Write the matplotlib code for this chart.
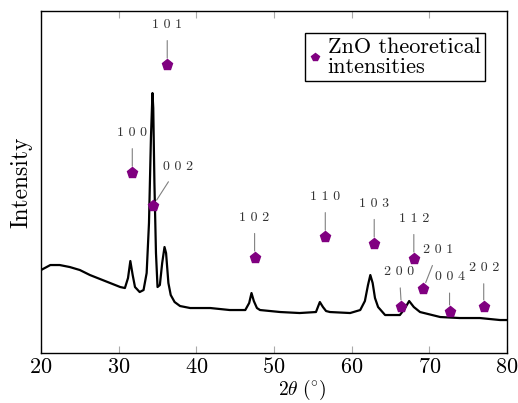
import matplotlib
matplotlib.use('Agg')
from matplotlib import pyplot as plt

plt.rcParams['font.family'] = ['cmr10', 'DejaVu Serif']
plt.rcParams['mathtext.fontset'] = 'cm'
plt.rcParams['axes.formatter.use_mathtext'] = True

# measured XRD pattern (2theta, intensity in arbitrary units)
two_theta = [20.0, 21.2, 22.4, 23.7, 25.0, 26.3, 27.6, 28.9, 30.2, 30.8, 31.2, 31.5, 31.8,
             32.1, 32.7, 33.2, 33.6, 33.9, 34.15, 34.35, 34.45, 34.6, 34.8, 35.0, 35.3, 35.6,
             35.9, 36.1, 36.4, 36.7, 37.2, 37.9, 39.2, 41.8, 44.3, 46.3, 46.8, 47.1, 47.4,
             47.8, 48.2, 50.8, 53.3, 55.4, 55.9, 56.3, 56.7, 57.2, 59.8, 61.1, 61.7, 62.1,
             62.4, 62.7, 63.0, 63.4, 64.3, 66.2, 66.8, 67.4, 68.0, 68.8, 71.4, 73.9, 76.5,
             79.1, 80.0]
intensity = [83, 88, 88, 86, 83, 78, 74, 70, 66, 65, 75, 92, 78,
             66, 61, 63, 80, 130, 215, 260, 245, 170, 100, 66, 68, 90,
             106, 100, 70, 58, 51, 47, 45, 45, 43, 43, 50, 60, 52,
             45, 43, 41, 40, 41, 51, 46, 42, 41, 40, 43, 52, 68,
             78, 70, 55, 46, 38, 38, 44, 52, 46, 41, 36, 35, 35,
             33, 33]

# ZnO theoretical peaks
peak_pos = [31.75, 34.4, 36.25, 47.5, 56.6, 62.9, 66.4, 68.0, 69.2, 72.6, 77.0]
peak_height = [52.6, 43.0, 84.2, 27.8, 33.9, 31.9, 13.5, 27.5, 18.7, 12.0, 13.5]
peak_hkl = ['1 0 0', '0 0 2', '1 0 1', '1 0 2', '1 1 0', '1 0 3',
            '2 0 0', '1 1 2', '2 0 1', '0 0 4', '2 0 2']
label_off = [(0, 29), (18, 28), (0, 29), (0, 29), (0, 29), (0, 29),
             (-1.5, 25), (0, 29), (11, 28), (0, 25), (0, 28)]

fig = plt.figure(figsize=(5.18, 4.03), dpi=100)
ax = fig.add_axes([0.0792, 0.124, 0.8996, 0.8486])

ax.plot(two_theta, intensity, color='black', lw=1.6)
ax.plot(peak_pos, [h * 3.42 for h in peak_height], 'p', color='#800080', ms=8,
        ls='none', label='ZnO theoretical\nintensities', zorder=5)

for x, h, lbl, off in zip(peak_pos, peak_height, peak_hkl, label_off):
    ax.annotate(lbl, xy=(x, h * 3.42), xytext=off, textcoords='offset points',
                ha='center', va='center', fontsize=10, color='#333333',
                arrowprops=dict(arrowstyle='-', color='gray', lw=0.8,
                                shrinkA=5, shrinkB=5))

ax.set_xlim(20, 80)
ax.set_ylim(0, 342)
ax.set_xticks([20, 30, 40, 50, 60, 70, 80])
ax.set_yticks([])
ax.tick_params(axis='x', direction='in', top=True, length=5, width=0.8,
               color='#aaaaaa', labelsize=16, pad=3)
for s in ax.spines.values():
    s.set_linewidth(1.0)

ax.set_xlabel(r'$2\theta\ (^{\circ})$', fontsize=14)
ax.xaxis.set_label_coords(0.56, -0.072)
ax.xaxis.label.set_va('top')
ax.set_ylabel('Intensity', fontsize=17, labelpad=6)

leg = ax.legend(loc='upper right', fontsize=16, fancybox=False, edgecolor='black',
                framealpha=1, handlelength=0.5, handletextpad=0.3, markerscale=0.7,
                borderaxespad=1.0, borderpad=0.2, labelspacing=0.0)
leg.get_frame().set_linewidth(1.0)
leg.get_texts()[0].set_linespacing(1.0)

plt.savefig('out.png', dpi=100)
